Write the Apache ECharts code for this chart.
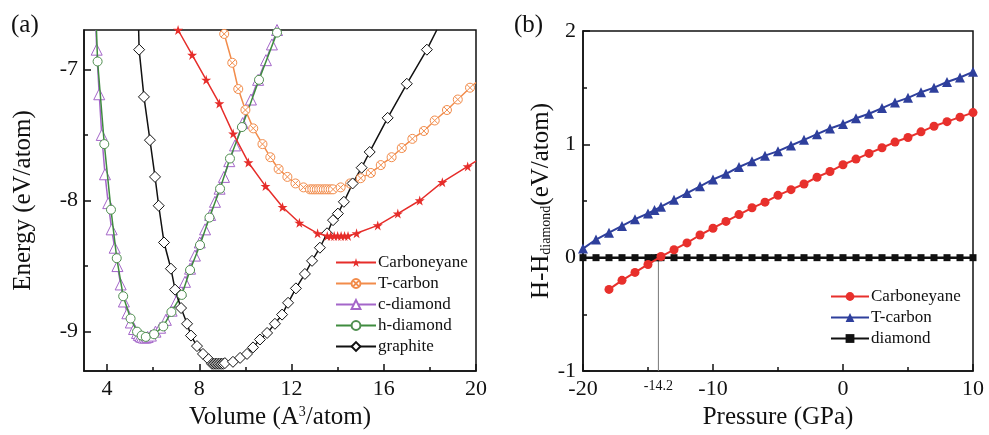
<!DOCTYPE html>
<html>
<head>
<meta charset="utf-8">
<script src="https://cdn.jsdelivr.net/npm/echarts@6/dist/echarts.min.js"></script>
<style>
  html, body { margin: 0; padding: 0; background: #fff; }
  #chart { width: 989px; height: 435px; }
</style>
</head>
<body>
<div id="chart"></div>
<script>
// ---- panel (a): energy vs volume, [volume, energy] ----
const carboneyaneEV = [
  [7.08, -6.70], [7.69, -6.89], [8.30, -7.08], [8.87, -7.26], [9.47, -7.49], [10.13, -7.71],
  [10.87, -7.89], [11.61, -8.05], [12.34, -8.17], [13.13, -8.25], [13.55, -8.27], [13.70, -8.27],
  [13.85, -8.27], [14.00, -8.27], [14.15, -8.27], [14.30, -8.27], [14.45, -8.27], [14.82, -8.25],
  [15.74, -8.19], [16.61, -8.10], [17.56, -8.00], [18.54, -7.86], [19.64, -7.74], [20.00, -7.70]
]
const tcarbonEV = [
  [9.08, -6.73], [9.43, -6.95], [9.69, -7.15], [10.00, -7.31], [10.34, -7.45], [10.74, -7.57],
  [11.08, -7.67], [11.44, -7.76], [11.82, -7.82], [12.17, -7.87], [12.52, -7.90], [12.80, -7.915],
  [12.90, -7.915], [13.00, -7.915], [13.10, -7.915], [13.20, -7.915], [13.30, -7.915], [13.40, -7.915],
  [13.50, -7.915], [13.60, -7.915], [13.70, -7.915], [13.80, -7.915], [14.13, -7.90], [14.54, -7.87],
  [15.00, -7.83], [15.44, -7.79], [15.87, -7.73], [16.34, -7.67], [16.78, -7.60], [17.24, -7.53],
  [17.74, -7.47], [18.21, -7.39], [18.74, -7.31], [19.21, -7.23], [19.74, -7.14], [20.00, -7.10]
]
const cdiamondEV = [
  [3.52, -6.70], [3.55, -6.85], [3.66, -7.19], [3.77, -7.50], [3.91, -7.80], [4.05, -8.02],
  [4.20, -8.22], [4.33, -8.36], [4.45, -8.50], [4.59, -8.64], [4.73, -8.77], [4.88, -8.86],
  [5.03, -8.93], [5.17, -8.98], [5.30, -9.01], [5.38, -9.025], [5.45, -9.035], [5.52, -9.04],
  [5.60, -9.045], [5.68, -9.045], [5.76, -9.04], [5.90, -9.03], [6.10, -9.00], [6.30, -8.97],
  [6.55, -8.91], [6.80, -8.84], [7.00, -8.77], [7.20, -8.69], [7.38, -8.62], [7.60, -8.52],
  [7.81, -8.42], [8.02, -8.32], [8.25, -8.22], [8.47, -8.11], [8.68, -8.01], [8.88, -7.91],
  [9.07, -7.82], [9.30, -7.70], [9.55, -7.58], [9.88, -7.41], [10.24, -7.23], [10.55, -7.08],
  [10.89, -6.93], [11.15, -6.81], [11.37, -6.70]
]
const hdiamondEV = [
  [3.54, -6.70], [3.59, -6.94], [3.88, -7.57], [4.17, -8.07], [4.42, -8.44], [4.70, -8.73],
  [5.02, -8.90], [5.30, -9.00], [5.50, -9.03], [5.68, -9.04], [6.04, -9.02], [6.44, -8.96],
  [6.79, -8.85], [7.24, -8.72], [7.60, -8.53], [8.03, -8.34], [8.44, -8.13], [8.90, -7.91],
  [9.33, -7.68], [9.85, -7.44], [10.59, -7.08], [11.37, -6.72]
]
const graphiteEV = [
  [5.37, -6.70], [5.39, -6.85], [5.60, -7.21], [5.86, -7.54], [6.08, -7.82], [6.24, -8.04],
  [6.47, -8.32], [6.77, -8.52], [6.95, -8.68], [7.21, -8.82], [7.47, -8.94], [7.64, -9.03],
  [7.90, -9.11], [8.16, -9.17], [8.40, -9.21], [8.55, -9.245], [8.62, -9.245], [8.69, -9.245],
  [8.76, -9.245], [8.83, -9.245], [8.90, -9.245], [8.97, -9.245], [9.04, -9.245], [9.11, -9.24],
  [9.46, -9.23], [9.77, -9.20], [10.07, -9.17], [10.33, -9.12], [10.63, -9.06], [10.94, -9.01],
  [11.28, -8.94], [11.59, -8.87], [11.85, -8.78], [12.19, -8.67], [12.58, -8.56], [12.89, -8.46],
  [13.23, -8.36], [13.54, -8.25], [13.80, -8.15], [14.01, -8.10], [14.27, -8.01], [14.65, -7.87],
  [15.04, -7.75], [15.39, -7.63], [16.17, -7.37], [17.00, -7.11], [17.87, -6.85], [18.30, -6.70]
]
// points that only carry the line to the frame edge (no marker in the figure)
const edgeOnly = {
  carboneyane: [20.00],
  tcarbon: [20.00],
  cdiamond: [3.52],
  hdiamond: [3.54],
  graphite: [5.37, 18.30]
}

// ---- panel (b): enthalpy vs pressure ----
const pressureC = [-18, -17, -16, -15, -14, -13, -12, -11, -10, -9, -8, -7, -6, -5, -4, -3, -2, -1,
  0, 1, 2, 3, 4, 5, 6, 7, 8, 9, 10]
const enthalpyC = [-0.28, -0.20, -0.13, -0.06, 0.01, 0.07, 0.13, 0.20, 0.26, 0.32, 0.38, 0.44, 0.49,
  0.55, 0.60, 0.65, 0.71, 0.76, 0.82, 0.87, 0.92, 0.97, 1.02, 1.06, 1.11, 1.16, 1.20, 1.24, 1.28]
const pressureT = [-20, -19, -18, -17, -16, -15, -14.5, -14, -13, -12, -11, -10, -9, -8, -7, -6, -5,
  -4, -3, -2, -1, 0, 1, 2, 3, 4, 5, 6, 7, 8, 9, 10]
const enthalpyT = [0.08, 0.16, 0.22, 0.28, 0.34, 0.39, 0.42, 0.45, 0.51, 0.57, 0.63, 0.69, 0.74, 0.80,
  0.85, 0.90, 0.94, 0.99, 1.04, 1.09, 1.14, 1.18, 1.23, 1.27, 1.32, 1.37, 1.41, 1.46, 1.50, 1.55,
  1.59, 1.64]
const pressureD = [-20, -19, -18, -17, -16, -15, -14.5, -14.2, -14, -13, -12, -11, -10, -9, -8, -7,
  -6, -5, -4, -3, -2, -1, 0, 1, 2, 3, 4, 5, 6, 7, 8, 9, 10]
const enthalpyD = pressureD.map(() => 0)
const transitionP = -14.2
const transitionLine = [[transitionP, 0], [transitionP, -1]]

// ticks
const volTicks = [4, 8, 12, 16, 20]
const volMinor = [6, 10, 14, 18]
const energyTicks = [-9, -8, -7]
const energyMinor = [-8.5, -7.5]

const FONT = 'Liberation Serif, DejaVu Serif, serif'
const STAR = 'path://M50,0 L61,35 L98,35 L68,57 L79,91 L50,70 L21,91 L32,57 L2,35 L39,35 Z'
const CROSS_CIRCLE = 'path://M50,5 A45,45 0 1,1 49.99,5 Z M18,18 L82,82 M82,18 L18,82'

function withEdges(data, edges) {
  return data.map(p => edges.includes(p[0]) ? { value: p, symbol: 'none' } : p)
}

const chart = echarts.init(document.getElementById('chart'))

const axisLine = { onZero: false, lineStyle: { color: '#111', width: 1.5 } }
const labelStyle = { color: '#111', fontFamily: FONT, fontSize: 22 }

const option = {
  animation: false,
  backgroundColor: '#fff',
  title: [
    { text: '(a)', left: 6, top: 8, textStyle: { fontFamily: FONT, fontSize: 25, fontWeight: 'normal', color: '#111' } },
    { text: '(b)', left: 509, top: 8, textStyle: { fontFamily: FONT, fontSize: 25, fontWeight: 'normal', color: '#111' } }
  ],
  grid: [
    { left: 84, top: 30, width: 392, height: 341, show: true, borderColor: '#111', borderWidth: 1.5 },
    { left: 583, top: 31, width: 390, height: 340, show: true, borderColor: '#111', borderWidth: 1.5 }
  ],
  legend: [
    {
      data: ['Carboneyane', 'T-carbon', 'c-diamond', 'h-diamond', 'graphite'],
      orient: 'vertical', left: 330, top: 249,
      itemWidth: 40, itemHeight: 11, itemGap: 4,
      textStyle: { fontFamily: FONT, fontSize: 17, color: '#111', padding: [0, 0, 0, -3] }
    },
    {
      data: ['Carboneyane ', 'T-carbon ', 'diamond'],
      orient: 'vertical', left: 825, top: 283,
      itemWidth: 38, itemHeight: 11, itemGap: 4,
      textStyle: { fontFamily: FONT, fontSize: 17, color: '#111', padding: [0, 0, 0, -3] }
    }
  ],
  xAxis: [
    {
      gridIndex: 0, type: 'value', min: 3, max: 20, position: 'bottom',
      axisLine, splitLine: { show: false },
      axisTick: { inside: true, length: 7, lineStyle: { color: '#111', width: 1.5 }, customValues: volTicks },
      axisLabel: { ...labelStyle, margin: 7, customValues: volTicks },
      name: '{t|Volume (A}{p|3}{t|/atom)}', nameLocation: 'middle', nameGap: 30,
      nameTextStyle: {
        rich: {
          t: { fontFamily: FONT, fontSize: 25, color: '#111' },
          p: { fontFamily: FONT, fontSize: 14, color: '#111', verticalAlign: 'top', padding: [0, 0, 10, 0] }
        }
      }
    },
    {
      gridIndex: 0, type: 'value', min: 3, max: 20, position: 'bottom', offset: 0,
      axisLine: { show: false, onZero: false }, splitLine: { show: false },
      axisTick: { inside: true, length: 4, lineStyle: { color: '#111', width: 1.5 }, customValues: volMinor },
      axisLabel: { show: false }
    },
    {
      gridIndex: 1, type: 'value', min: -20, max: 10, interval: 10, position: 'bottom',
      axisLine, splitLine: { show: false },
      axisTick: { inside: true, length: 7, lineStyle: { color: '#111', width: 1.5 } },
      minorTick: { show: true, splitNumber: 2, length: 4, lineStyle: { color: '#111', width: 1.5 } },
      axisLabel: { ...labelStyle, margin: 7, showMinLabel: true, showMaxLabel: true, hideOverlap: false },
      name: 'Pressure (GPa)', nameLocation: 'middle', nameGap: 30,
      nameTextStyle: { fontFamily: FONT, fontSize: 25, color: '#111' }
    },
    {
      gridIndex: 1, type: 'value', min: -20, max: 10, position: 'bottom', offset: 0,
      axisLine: { show: false, onZero: false }, splitLine: { show: false }, axisTick: { show: false },
      axisLabel: { color: '#111', fontFamily: FONT, fontSize: 14, margin: 8, customValues: [transitionP] }
    }
  ],
  yAxis: [
    {
      gridIndex: 0, type: 'value', min: -9.3, max: -6.7, position: 'left',
      axisLine: { show: true, ...axisLine }, splitLine: { show: false },
      axisTick: { show: true, inside: true, length: 7, lineStyle: { color: '#111', width: 1.5 }, customValues: energyTicks },
      axisLabel: { ...labelStyle, margin: 6, customValues: energyTicks },
      name: 'Energy (eV/atom)', nameLocation: 'middle', nameGap: 48,
      nameTextStyle: { fontFamily: FONT, fontSize: 25, color: '#111' }
    },
    {
      gridIndex: 0, type: 'value', min: -9.3, max: -6.7, position: 'left', offset: 0,
      axisLine: { show: false, onZero: false }, splitLine: { show: false },
      axisTick: { show: true, inside: true, length: 4, lineStyle: { color: '#111', width: 1.5 }, customValues: energyMinor },
      axisLabel: { show: false }
    },
    {
      gridIndex: 1, type: 'value', min: -1, max: 2, interval: 1, position: 'left',
      axisLine: { show: true, ...axisLine }, splitLine: { show: false },
      axisTick: { show: true, inside: true, length: 7, lineStyle: { color: '#111', width: 1.5 } },
      minorTick: { show: true, splitNumber: 2, length: 4, lineStyle: { color: '#111', width: 1.5 } },
      axisLabel: { ...labelStyle, margin: 7, showMinLabel: true, hideOverlap: false },
      name: '{m|H-H}{s|diamond}{m|(eV/atom)}', nameLocation: 'middle', nameGap: 26,
      nameTextStyle: {
        rich: {
          m: { fontFamily: FONT, fontSize: 25, color: '#111' },
          s: { fontFamily: FONT, fontSize: 14, color: '#111', verticalAlign: 'bottom', padding: [10, 0, 0, 0] }
        }
      }
    }
  ],
  series: [
    {
      name: 'Carboneyane', type: 'line', xAxisIndex: 0, yAxisIndex: 0,
      data: withEdges(carboneyaneEV, edgeOnly.carboneyane),
      symbol: STAR, symbolSize: 10, z: 4,
      lineStyle: { color: '#e62d2a', width: 1.5 },
      itemStyle: { color: '#e62d2a', borderWidth: 0 }
    },
    {
      name: 'T-carbon', type: 'line', xAxisIndex: 0, yAxisIndex: 0,
      data: withEdges(tcarbonEV, edgeOnly.tcarbon),
      symbol: CROSS_CIRCLE, symbolSize: 9, z: 3,
      lineStyle: { color: '#f28c4b', width: 1.5 },
      itemStyle: { color: '#fff', borderColor: '#f28c4b', borderWidth: 1 }
    },
    {
      name: 'c-diamond', type: 'line', xAxisIndex: 0, yAxisIndex: 0,
      data: withEdges(cdiamondEV, edgeOnly.cdiamond),
      symbol: 'triangle', symbolSize: 11, z: 2,
      lineStyle: { color: '#a466c9', width: 1.5 },
      itemStyle: { color: '#fff', borderColor: '#a466c9', borderWidth: 1 }
    },
    {
      name: 'h-diamond', type: 'line', xAxisIndex: 0, yAxisIndex: 0,
      data: withEdges(hdiamondEV, edgeOnly.hdiamond),
      symbol: 'circle', symbolSize: 9, z: 3,
      lineStyle: { color: '#3f8c3f', width: 1.5 },
      itemStyle: { color: '#fff', borderColor: '#4f8f4f', borderWidth: 1 }
    },
    {
      name: 'graphite', type: 'line', xAxisIndex: 0, yAxisIndex: 0,
      data: withEdges(graphiteEV, edgeOnly.graphite),
      symbol: 'diamond', symbolSize: 11, z: 3,
      lineStyle: { color: '#111', width: 1.5 },
      itemStyle: { color: '#fff', borderColor: '#111', borderWidth: 1 }
    },
    {
      name: 'transition', type: 'line', xAxisIndex: 2, yAxisIndex: 2,
      data: transitionLine, symbol: 'none', z: 1, silent: true,
      lineStyle: { color: '#777', width: 1 }
    },
    {
      name: 'diamond', type: 'line', xAxisIndex: 2, yAxisIndex: 2,
      data: pressureD.map((p, i) => [p, enthalpyD[i]]),
      symbol: 'rect', symbolSize: 7, z: 2,
      lineStyle: { color: '#111', width: 2.5 },
      itemStyle: { color: '#111' }
    },
    {
      name: 'Carboneyane ', type: 'line', xAxisIndex: 2, yAxisIndex: 2,
      data: pressureC.map((p, i) => [p, enthalpyC[i]]),
      symbol: 'circle', symbolSize: 9, z: 3,
      lineStyle: { color: '#e8302c', width: 2 },
      itemStyle: { color: '#e8302c' }
    },
    {
      name: 'T-carbon ', type: 'line', xAxisIndex: 2, yAxisIndex: 2,
      data: pressureT.map((p, i) => [p, enthalpyT[i]]),
      symbol: 'triangle', symbolSize: 10, z: 3,
      lineStyle: { color: '#2e3f9c', width: 2 },
      itemStyle: { color: '#2e3f9c' }
    }
  ]
}

chart.setOption(option)
</script>
</body>
</html>
